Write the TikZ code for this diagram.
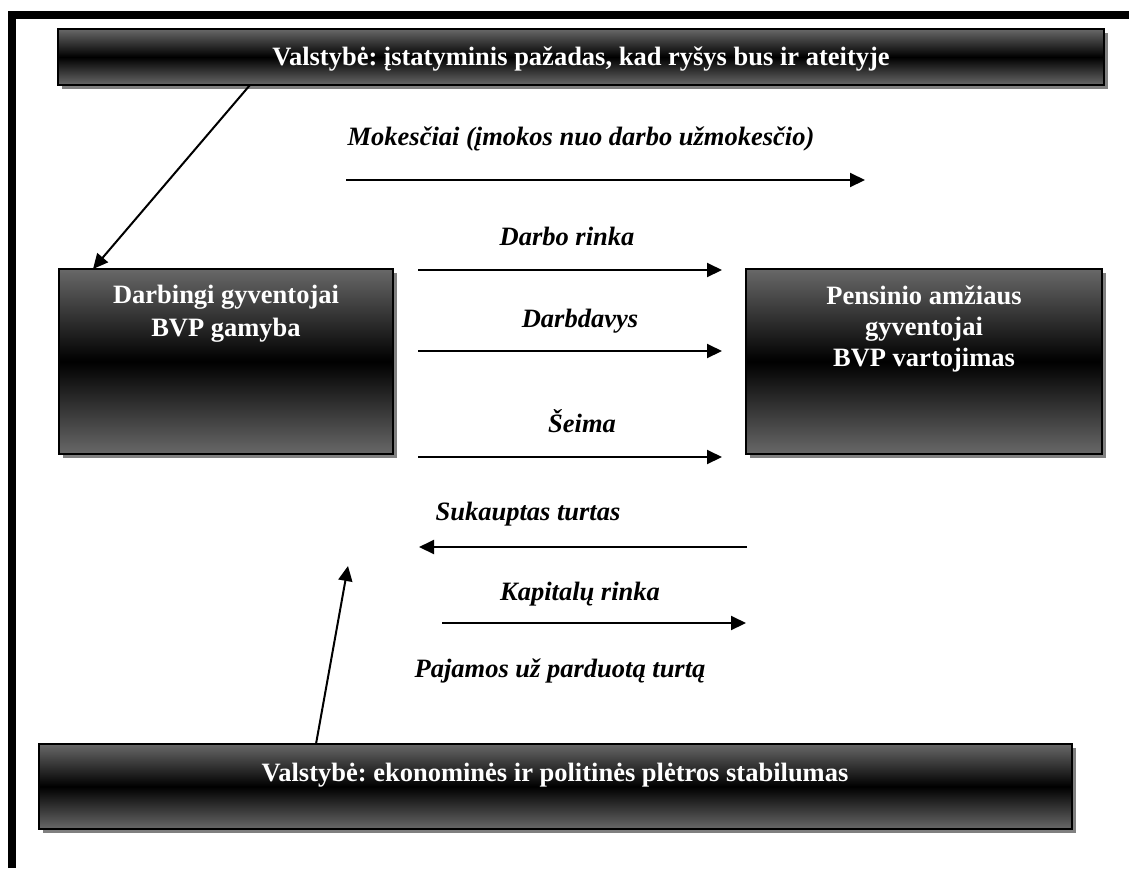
\documentclass[tikz,border=0pt]{standalone}
\usepackage{fontspec}
\setmainfont{Liberation Serif}
\frenchspacing
\usetikzlibrary{shadows,arrows.meta}
\definecolor{boxgray}{RGB}{104,104,104}
\definecolor{shadowgray}{RGB}{128,128,128}
\tikzset{
  gbox/.style={draw=black, line width=2.5pt, top color=boxgray, bottom color=boxgray, middle color=black, inner sep=0pt,
    drop shadow={shadow xshift=4pt, shadow yshift=-4pt, fill=shadowgray, opacity=1}},
  btext/.style={text=white, font=\fontsize{26.5}{32}\selectfont\bfseries, align=center, inner sep=0pt},
  ltext/.style={font=\fontsize{26.5}{31}\selectfont\bfseries\itshape, inner sep=0pt, anchor=base},
  flow/.style={line width=2pt, -{Triangle[length=15pt,width=14pt]}},
}
\begin{document}
\begin{tikzpicture}[x=1pt,y=-1pt]
\useasboundingbox (0,0) rectangle (1129,868);
% frame
\draw[line width=8pt] (12,868) -- (12,15) -- (1129,15);
% boxes
\node[gbox, minimum width=1046pt, minimum height=56pt] (top) at (581,57) {};
\node[gbox, minimum width=334pt, minimum height=185pt] (left) at (226,361.5) {};
\node[gbox, minimum width=356pt, minimum height=185pt] (right) at (924,361.5) {};
\node[gbox, minimum width=1033pt, minimum height=85pt] (bottom) at (555.5,786.5) {};
% box texts
\node[btext, anchor=base] (toptxt) at (581,65) {Valstybė: įstatyminis pažadas, kad ryšys bus ir ateityje};
\node[btext, anchor=base, font=\fontsize{26.5}{33}\selectfont\bfseries] (lefttxt) at (226,336) {Darbingi gyventojai\\BVP gamyba};
\node[btext, anchor=base, font=\fontsize{26.5}{31}\selectfont\bfseries] (righttxt) at (924,366) {Pensinio amžiaus\\gyventojai\\BVP vartojimas};
\node[btext, anchor=base] (bottxt) at (555,781) {Valstybė: ekonominės ir politinės plėtros stabilumas};
% labels
\node[ltext] (l1) at (581,145) {Mokesčiai (įmokos nuo darbo užmokesčio)};
\node[ltext] (l2) at (567,245) {Darbo rinka};
\node[ltext] (l3) at (580,327) {Darbdavys};
\node[ltext] (l4) at (582,432) {Šeima};
\node[ltext] (l5) at (528,520) {Sukauptas turtas};
\node[ltext] (l6) at (580,600) {Kapitalų rinka};
\node[ltext] (l7) at (560,677) {Pajamos už parduotą turtą};
% arrow end points
\coordinate (a1s) at (250,85);
\coordinate (a1e) at (93,269);
\coordinate (a2s) at (346,180);
\coordinate (a2e) at (865,180);
\coordinate (a3s) at (418,270);
\coordinate (a3e) at (722,270);
\coordinate (a4s) at (418,351);
\coordinate (a4e) at (722,351);
\coordinate (a5s) at (418,457);
\coordinate (a5e) at (722,457);
\coordinate (a6s) at (747,547);
\coordinate (a6e) at (419,547);
\coordinate (a7s) at (442,623);
\coordinate (a7e) at (746,623);
\coordinate (a8s) at (316,744);
\coordinate (a8e) at (348,566);
% arrows
\draw[flow] (a1s) -- (a1e);
\draw[flow] (a2s) -- (a2e);
\draw[flow] (a3s) -- (a3e);
\draw[flow] (a4s) -- (a4e);
\draw[flow] (a5s) -- (a5e);
\draw[flow] (a6s) -- (a6e);
\draw[flow] (a7s) -- (a7e);
\draw[flow] (a8s) -- (a8e);
\end{tikzpicture}
\end{document}
